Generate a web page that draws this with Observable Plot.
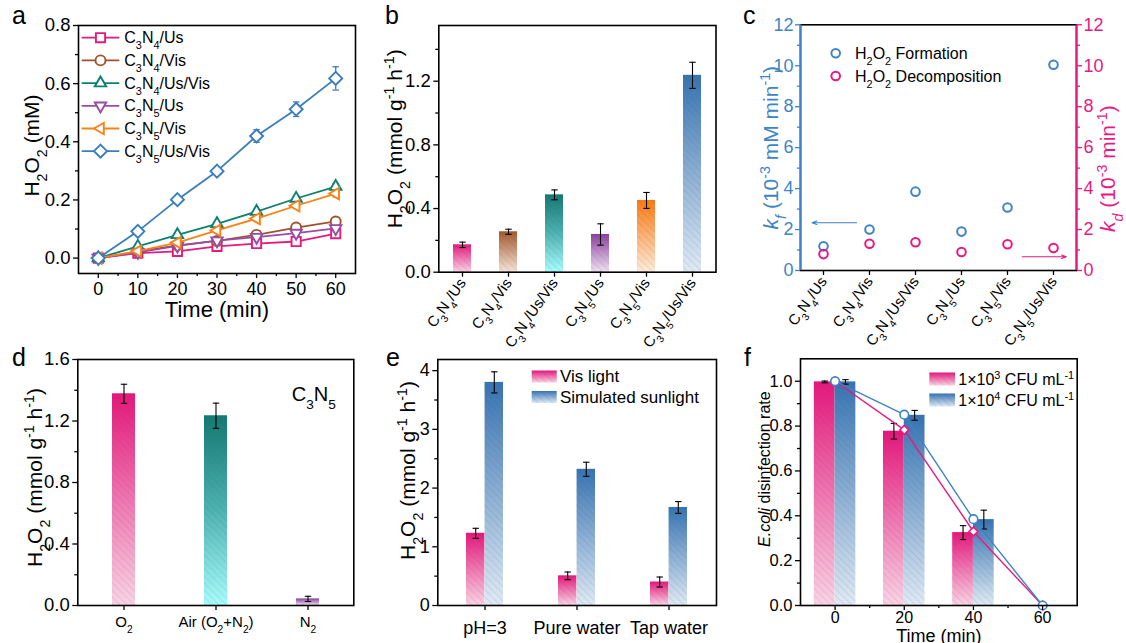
<!DOCTYPE html>
<html><head><meta charset="utf-8">
<script src="https://cdn.jsdelivr.net/npm/d3@7"></script>
<script src="https://cdn.jsdelivr.net/npm/@observablehq/plot@0.6"></script>
<style>
body{margin:0;background:#fff;}
#fig{position:relative;width:1126px;height:643px;overflow:hidden;font-family:"Liberation Sans",Arial,Helvetica,sans-serif;background:#fff;}
.letter{position:absolute;font-size:25px;line-height:25px;color:#000;}
</style></head><body>
<div id="fig">
<svg width="0" height="0" style="position:absolute;left:0;top:0">
<defs>
<pattern id="hatch" patternUnits="userSpaceOnUse" width="5" height="5" patternTransform="rotate(-45)">
<line x1="0" y1="0" x2="0" y2="5" stroke="#5a5a5a" stroke-opacity="0.28" stroke-width="0.9"/>
</pattern>
<linearGradient id="g-pink" x1="0" y1="0" x2="0" y2="1"><stop offset="0" stop-color="#E5167B"/><stop offset="1" stop-color="#FAD3E5"/></linearGradient>
<linearGradient id="g-brown" x1="0" y1="0" x2="0" y2="1"><stop offset="0" stop-color="#A3582C"/><stop offset="1" stop-color="#F5E4D7"/></linearGradient>
<linearGradient id="g-teal" x1="0" y1="0" x2="0" y2="1"><stop offset="0" stop-color="#137872"/><stop offset="0.5" stop-color="#4DB3B1"/><stop offset="1" stop-color="#A8FDFD"/></linearGradient>
<linearGradient id="g-purple" x1="0" y1="0" x2="0" y2="1"><stop offset="0" stop-color="#8D3F9F"/><stop offset="1" stop-color="#EFE1F2"/></linearGradient>
<linearGradient id="g-orange" x1="0" y1="0" x2="0" y2="1"><stop offset="0" stop-color="#FA7912"/><stop offset="1" stop-color="#FEECDA"/></linearGradient>
<linearGradient id="g-blue" x1="0" y1="0" x2="0" y2="1"><stop offset="0" stop-color="#3673B2"/><stop offset="1" stop-color="#DFEAF5"/></linearGradient>
</defs></svg>
</div>
<script>
// ---------------- DATA ----------------
// Panel a: H2O2 (mM) vs time
const timeA = [0, 10, 20, 30, 40, 50, 60];
const seriesA = ["C_3N_4/Us", "C_3N_4/Vis", "C_3N_4/Us/Vis", "C_3N_5/Us", "C_3N_5/Vis", "C_3N_5/Us/Vis"];
const valA_C3N4_Us    = [0, 0.017, 0.023, 0.040, 0.050, 0.057, 0.084];
const valA_C3N4_Vis   = [0, 0.022, 0.044, 0.059, 0.080, 0.105, 0.126];
const valA_C3N4_UsVis = [0, 0.040, 0.080, 0.118, 0.160, 0.205, 0.246];
const valA_C3N5_Us    = [0, 0.020, 0.042, 0.060, 0.072, 0.086, 0.102];
const valA_C3N5_Vis   = [0, 0.024, 0.053, 0.095, 0.136, 0.180, 0.222];
const valA_C3N5_UsVis = [0, 0.092, 0.201, 0.299, 0.420, 0.512, 0.618];
const errA_C3N4_Us    = [0.005, 0.004, 0.004, 0.005, 0.005, 0.006, 0.008];
const errA_C3N4_Vis   = [0.005, 0.004, 0.005, 0.005, 0.006, 0.007, 0.008];
const errA_C3N4_UsVis = [0.005, 0.005, 0.006, 0.006, 0.007, 0.008, 0.010];
const errA_C3N5_Us    = [0.005, 0.004, 0.005, 0.005, 0.006, 0.007, 0.008];
const errA_C3N5_Vis   = [0.005, 0.005, 0.006, 0.007, 0.008, 0.010, 0.012];
const errA_C3N5_UsVis = [0.010, 0.008, 0.010, 0.010, 0.022, 0.025, 0.040];

// Panel b: H2O2 production rate
const catsB = ["C_3N_4/Us", "C_3N_4/Vis", "C_3N_4/Us/Vis", "C_3N_5/Us", "C_3N_5/Vis", "C_3N_5/Us/Vis"];
const valB = [0.172, 0.254, 0.486, 0.237, 0.451, 1.237];
const errB = [0.017, 0.016, 0.031, 0.067, 0.050, 0.082];

// Panel c: rate constants
const catsC = ["C_3N_4/Us", "C_3N_4/Vis", "C_3N_4/Us/Vis", "C_3N_5/Us", "C_3N_5/Vis", "C_3N_5/Us/Vis"];
const kfC = [1.18, 2.00, 3.85, 1.90, 3.08, 10.05];
const kdC = [0.80, 1.31, 1.38, 0.90, 1.28, 1.10];
const legendC = ["H_2O_2 Formation", "H_2O_2 Decomposition"];
const arrowKf = [{from: 0.72, to: -0.25, level: 2.33}];
const arrowKd = [{from: 4.32, to: 5.28, level: 0.67}];

// Panel d: atmosphere
const catsD = ["O_2", "Air (O_2+N_2)", "N_2"];
const valD = [1.377, 1.234, 0.043];
const errD = [0.062, 0.082, 0.017];

// Panel e: water matrix
const catsE = ["pH=3", "Pure water", "Tap water"];
const valE_vis = [1.23, 0.505, 0.40];
const errE_vis = [0.085, 0.065, 0.085];
const valE_sun = [3.80, 2.32, 1.67];
const errE_sun = [0.18, 0.12, 0.10];
const legendE = ["Vis light", "Simulated sunlight"];

// Panel f: E. coli disinfection
const timeF = [0, 20, 40, 60];
const barF_1e3 = [0.997, 0.777, 0.325, 0];
const errF_1e3 = [0.004, 0.035, 0.031, 0];
const barF_1e4 = [0.997, 0.848, 0.383, 0];
const errF_1e4 = [0.010, 0.022, 0.042, 0];
const lineF_1e3 = [1.0, 0.783, 0.330, 0];
const lineF_1e4 = [1.0, 0.851, 0.385, 0];
const legendF = ["1×10^3 CFU mL^{-1}", "1×10^4 CFU mL^{-1}"];

// ---------------- STYLE ----------------
const FONT = "'Liberation Sans', Arial, Helvetica, sans-serif";
const colorsA = ["#E6197D", "#A0522D", "#0E8072", "#984CA6", "#FA8116", "#3A7DBD"];
const gradB = ["url(#g-pink)", "url(#g-brown)", "url(#g-teal)", "url(#g-purple)", "url(#g-orange)", "url(#g-blue)"];
const gradD = ["url(#g-pink)", "url(#g-teal)", "url(#g-purple)"];
const CBLUE = "#3F84C4", CPINK = "#E8197F";

const NS = "http://www.w3.org/2000/svg";
const fig = document.getElementById("fig");

function rich(root) {
  root.querySelectorAll("text").forEach(t => {
    const tsp = t.querySelectorAll("tspan");
    const targets = tsp.length ? Array.from(tsp) : [t];
    targets.forEach(el => {
      const s = el.textContent;
      if (!/[_^*]/.test(s)) return;
      while (el.firstChild) el.removeChild(el.firstChild);
      let buf = "", italic = false, i = 0;
      const add = (txt, kind) => {
        const ts = document.createElementNS(NS, "tspan");
        ts.textContent = txt;
        if (italic) ts.setAttribute("font-style", "italic");
        if (kind) { ts.setAttribute("baseline-shift", kind); ts.style.fontSize = "68%"; }
        el.appendChild(ts);
      };
      const flush = () => { if (buf) { add(buf); buf = ""; } };
      while (i < s.length) {
        const c = s[i];
        if ((c === "_" || c === "^") && i + 1 < s.length) {
          flush();
          let content;
          if (s[i + 1] === "{") { const k = s.indexOf("}", i + 1); content = s.slice(i + 2, k); i = k + 1; }
          else { content = s[i + 1]; i += 2; }
          add(content, c === "_" ? "sub" : "super");
        } else if (c === "*") { flush(); italic = !italic; i++; }
        else { buf += c; i++; }
      }
      flush();
    });
  });
}

function place(node, left, top) {
  node.style.position = "absolute";
  node.style.left = left + "px";
  node.style.top = top + "px";
  fig.appendChild(node);
  rich(node);
  return node;
}
function letter(ch, left, top) {
  const d = document.createElement("div");
  d.className = "letter"; d.textContent = ch;
  d.style.left = left + "px"; d.style.top = top + "px";
  fig.appendChild(d);
}

// symbols
const symSquare = {draw(ctx, size) { const s = Math.sqrt(size / Math.PI) * 0.92; ctx.rect(-s, -s, 2 * s, 2 * s); }};
const symDiamond = {draw(ctx, size) { const s = Math.sqrt(size / Math.PI) * 1.3; ctx.moveTo(0, -s); ctx.lineTo(s, 0); ctx.lineTo(0, s); ctx.lineTo(-s, 0); ctx.closePath(); }};
const symTri = deg => ({draw(ctx, size) {
  const r = Math.sqrt(size / Math.PI) * 1.32;
  for (let k = 0; k < 3; k++) {
    const a = (deg + k * 120) * Math.PI / 180;
    const x = r * Math.cos(a), y = r * Math.sin(a);
    if (k) ctx.lineTo(x, y); else ctx.moveTo(x, y);
  }
  ctx.closePath();
}});
const symTriUp = symTri(-90), symTriDown = symTri(90), symTriLeft = symTri(180);
const capSym = {draw(ctx) { ctx.moveTo(-3.2, 0); ctx.lineTo(3.2, 0); }};

function errMarks(data, {x, dx = 0, v = "v", e = "e", stroke = "#000", sw = 1.1}) {
  const val = typeof v === "function" ? v : d => d[v];
  const er = typeof e === "function" ? e : d => d[e];
  const dd = data.filter(d => er(d) > 0);
  return [
    Plot.ruleX(dd, {x, y1: d => val(d) - er(d), y2: d => val(d) + er(d), dx, stroke, strokeWidth: sw}),
    Plot.dot(dd, {x, y: d => val(d) + er(d), dx, symbol: capSym, stroke, strokeWidth: sw, fill: "none"}),
    Plot.dot(dd, {x, y: d => val(d) - er(d), dx, symbol: capSym, stroke, strokeWidth: sw, fill: "none"})
  ];
}
const style = {fontFamily: FONT, fontSize: "16px", color: "#000", background: "transparent", overflow: "visible"};
const frameMark = () => Plot.frame({stroke: "#000", strokeWidth: 1.6});
const title = (txt, o) => Plot.text([txt], {text: d => d, textAnchor: "middle", ...o});
function legendGroup(svg) {
  return d3.select(svg).append("g").attr("font-family", FONT).attr("text-anchor", "start").attr("fill", "#000");
}

// ---------------- PANEL A ----------------
{
  const valuesA = [valA_C3N4_Us, valA_C3N4_Vis, valA_C3N4_UsVis, valA_C3N5_Us, valA_C3N5_Vis, valA_C3N5_UsVis];
  const errsA = [errA_C3N4_Us, errA_C3N4_Vis, errA_C3N4_UsVis, errA_C3N5_Us, errA_C3N5_Vis, errA_C3N5_UsVis];
  const symbolsA = [symSquare, d3.symbolCircle, symTriUp, symTriDown, symTriLeft, symDiamond];
  const marks = [
    frameMark(),
    Plot.axisX({ticks: [0, 10, 20, 30, 40, 50, 60], tickSize: 5, tickPadding: 4, fontSize: 18, label: null, tickFormat: d3.format("d"), strokeWidth: 1.3}),
    Plot.axisX({ticks: [5, 15, 25, 35, 45, 55], tickSize: 3, tickFormat: () => "", label: null, strokeWidth: 1.3}),
    Plot.axisY({ticks: [0, 0.2, 0.4, 0.6, 0.8], tickSize: 5, tickPadding: 3, fontSize: 18.5, tickFormat: d3.format(".1f"), label: null, strokeWidth: 1.3}),
    Plot.axisY({ticks: [0.1, 0.3, 0.5, 0.7], tickSize: 3, tickFormat: () => "", label: null, strokeWidth: 1.3})
  ];
  seriesA.forEach((name, k) => {
    const data = timeA.map((t, i) => ({t, v: valuesA[k][i], e: errsA[k][i]}));
    marks.push(Plot.line(data, {x: "t", y: "v", stroke: colorsA[k], strokeWidth: 1.8}));
    marks.push(...errMarks(data, {x: "t", stroke: colorsA[k], sw: 1.3}));
    marks.push(Plot.dot(data, {x: "t", y: "v", symbol: symbolsA[k], r: 5, stroke: colorsA[k], fill: "white", strokeWidth: 1.9}));
  });
  marks.push(title("Time (min)", {frameAnchor: "bottom", lineAnchor: "top", dy: 28, fontSize: 22}));
  marks.push(title("H_2O_2 (mM)", {frameAnchor: "left", rotate: -90, dx: -46, dy: -4, fontSize: 21}));
  const svg = Plot.plot({
    width: 376, height: 322, marginLeft: 78, marginRight: 21, marginTop: 25, marginBottom: 49,
    style, x: {domain: [-5, 65]}, y: {domain: [-0.053, 0.8]}, marks
  });
  const g = legendGroup(svg);
  const L = 78, T = 25;
  seriesA.forEach((name, k) => {
    const y = T + 12.7 + k * 22.7;
    g.append("line").attr("x1", L + 3.7).attr("x2", L + 41.3).attr("y1", y).attr("y2", y).attr("stroke", colorsA[k]).attr("stroke-width", 1.8);
    g.append("path").attr("d", d3.symbol(symbolsA[k], 25 * Math.PI)()).attr("transform", `translate(${L + 22.5},${y})`)
      .attr("fill", "white").attr("stroke", colorsA[k]).attr("stroke-width", 1.9);
    g.append("text").attr("x", L + 46.3).attr("y", y).attr("dy", "0.35em").attr("font-size", 16).text(name);
  });
  place(svg, 0, 0);
}

// ---------------- PANEL B ----------------
{
  const data = catsB.map((c, i) => ({c, v: valB[i], e: errB[i], g: gradB[i]}));
  const svg = Plot.plot({
    width: 380, height: 330, marginLeft: 58.3, marginRight: 44.5, marginTop: 25, marginBottom: 58.3,
    style, color: {type: "identity"},
    x: {type: "band", domain: catsB, paddingInner: 0.6, paddingOuter: 0.3},
    y: {domain: [0, 1.55]},
    marks: [
      Plot.barY(data, {x: "c", y: "v", fill: "g"}),
      Plot.barY(data, {x: "c", y: "v", fill: "url(#hatch)"}),
      ...errMarks(data, {x: "c"}),
      frameMark(),
      Plot.axisX({tickRotate: -55, tickSize: 5, tickPadding: 3, fontSize: 15, label: null, strokeWidth: 1.3}),
      Plot.axisY({ticks: [0, 0.4, 0.8, 1.2], tickSize: 5, tickPadding: 3, fontSize: 18.5, tickFormat: d3.format(".1f"), label: null, strokeWidth: 1.3}),
      Plot.axisY({ticks: [0.2, 0.6, 1.0, 1.4], tickSize: 3, tickFormat: () => "", label: null, strokeWidth: 1.3}),
      title("H_2O_2 (mmol g^{-1} h^{-1})", {frameAnchor: "left", rotate: -90, dx: -44, dy: -10, fontSize: 21})
    ]
  });
  place(svg, 380, 0);
}

// ---------------- PANEL C ----------------
{
  const xDom = [-0.5, 5.5];
  const data = catsC.map((c, i) => ({i, kf: kfC[i], kd: kdC[i]}));
  const svg = Plot.plot({
    width: 366, height: 330, marginLeft: 40, marginRight: 50, marginTop: 24.3, marginBottom: 60,
    style, x: {domain: xDom}, y: {domain: [0, 12]},
    marks: [
      frameMark(),
      Plot.ruleX([xDom[0]], {stroke: CBLUE, strokeWidth: 2}),
      Plot.ruleX([xDom[1]], {stroke: CPINK, strokeWidth: 2}),
      Plot.axisX({ticks: d3.range(catsC.length), tickFormat: i => catsC[i], tickRotate: -55, tickSize: 5, tickPadding: 3, fontSize: 15, label: null, strokeWidth: 1.3}),
      Plot.axisY({anchor: "left", ticks: d3.range(0, 13, 2), color: CBLUE, tickSize: 5, tickPadding: 2, fontSize: 18, label: null, strokeWidth: 1.3}),
      Plot.axisY({anchor: "left", ticks: d3.range(1, 12, 2), color: CBLUE, tickSize: 3, tickFormat: () => "", label: null, strokeWidth: 1.3}),
      Plot.axisY({anchor: "right", ticks: d3.range(0, 13, 2), color: CPINK, tickSize: 5, tickPadding: 2, fontSize: 18, label: null, strokeWidth: 1.3}),
      Plot.axisY({anchor: "right", ticks: d3.range(1, 12, 2), color: CPINK, tickSize: 3, tickFormat: () => "", label: null, strokeWidth: 1.3}),
      Plot.arrow(arrowKf, {x1: "from", x2: "to", y1: "level", y2: "level", stroke: CBLUE, strokeWidth: 1.1, headLength: 7, headAngle: 40}),
      Plot.arrow(arrowKd, {x1: "from", x2: "to", y1: "level", y2: "level", stroke: CPINK, strokeWidth: 1.1, headLength: 7, headAngle: 40}),
      Plot.dot(data, {x: "i", y: "kf", r: 4.3, stroke: CBLUE, strokeWidth: 2, fill: "none"}),
      Plot.dot(data, {x: "i", y: "kd", r: 4.3, stroke: CPINK, strokeWidth: 2, fill: "none"}),
      title("*k_f* (10^{-3} mM min^{-1})", {frameAnchor: "left", rotate: -90, dx: -29, dy: 0, fontSize: 21, fill: CBLUE}),
      title("*k_d* (10^{-3} min^{-1})", {frameAnchor: "right", rotate: -90, dx: 32, dy: 21, fontSize: 21, fill: CPINK})
    ]
  });
  const g = legendGroup(svg);
  const L = 40, T = 24.3;
  [[CBLUE, 29], [CPINK, 51.7]].forEach(([col, y], k) => {
    g.append("circle").attr("cx", L + 35.7).attr("cy", T + y).attr("r", 4.3).attr("fill", "none").attr("stroke", col).attr("stroke-width", 2);
    g.append("text").attr("x", L + 55).attr("y", T + y).attr("dy", "0.35em").attr("font-size", 16).text(legendC[k]);
  });
  place(svg, 760, 0);
}

// ---------------- PANEL D ----------------
{
  const data = catsD.map((c, i) => ({c, v: valD[i], e: errD[i], g: gradD[i]}));
  const svg = Plot.plot({
    width: 376, height: 313, marginLeft: 77.3, marginRight: 22.7, marginTop: 29, marginBottom: 38,
    style, color: {type: "identity"},
    x: {type: "band", domain: catsD, paddingInner: 0.75, paddingOuter: 0.375},
    y: {domain: [0, 1.6]},
    marks: [
      Plot.barY(data, {x: "c", y: "v", fill: "g"}),
      Plot.barY(data, {x: "c", y: "v", fill: "url(#hatch)"}),
      ...errMarks(data, {x: "c"}),
      frameMark(),
      Plot.axisX({tickSize: 5, tickPadding: 6, fontSize: 15, label: null, strokeWidth: 1.3}),
      Plot.axisY({ticks: [0, 0.4, 0.8, 1.2, 1.6], tickSize: 5, tickPadding: 3, fontSize: 18.5, tickFormat: d3.format(".1f"), label: null, strokeWidth: 1.3}),
      Plot.axisY({ticks: [0.2, 0.6, 1.0, 1.4], tickSize: 3, tickFormat: () => "", label: null, strokeWidth: 1.3}),
      title("C_3N_5", {frameAnchor: "top-right", textAnchor: "end", dx: -18, dy: 27, fontSize: 20}),
      title("H_2O_2 (mmol g^{-1} h^{-1})", {frameAnchor: "left", rotate: -90, dx: -43, dy: -5, fontSize: 21})
    ]
  });
  place(svg, 0, 330);
}

// ---------------- PANEL E ----------------
{
  const data = catsE.map((c, i) => ({c, vis: valE_vis[i], evis: errE_vis[i], sun: valE_sun[i], esun: errE_sun[i]}));
  const half = 18.58;
  const svg = Plot.plot({
    width: 380, height: 313, marginLeft: 57.3, marginRight: 44, marginTop: 29, marginBottom: 38,
    style,
    x: {type: "band", domain: catsE, paddingInner: 0.6, paddingOuter: 0.3},
    y: {domain: [0, 4.19]},
    marks: [
      Plot.barY(data, {x: "c", y: "vis", fill: "url(#g-pink)", insetRight: half}),
      Plot.barY(data, {x: "c", y: "vis", fill: "url(#hatch)", insetRight: half}),
      Plot.barY(data, {x: "c", y: "sun", fill: "url(#g-blue)", insetLeft: half}),
      Plot.barY(data, {x: "c", y: "sun", fill: "url(#hatch)", insetLeft: half}),
      ...errMarks(data, {x: "c", v: "vis", e: "evis", dx: -half / 2}),
      ...errMarks(data, {x: "c", v: "sun", e: "esun", dx: half / 2}),
      frameMark(),
      Plot.axisX({tickSize: 5, tickPadding: 11, fontSize: 18, label: null, strokeWidth: 1.3}),
      Plot.axisY({ticks: [0, 1, 2, 3, 4], tickSize: 5, tickPadding: 3, fontSize: 18, tickFormat: d3.format("d"), label: null, strokeWidth: 1.3}),
      Plot.axisY({ticks: [0.5, 1.5, 2.5, 3.5], tickSize: 3, tickFormat: () => "", label: null, strokeWidth: 1.3}),
      title("H_2O_2 (mmol g^{-1} h^{-1})", {frameAnchor: "left", rotate: -90, dx: -30, dy: -12, fontSize: 21})
    ]
  });
  const g = legendGroup(svg);
  const L = 57.3, T = 29;
  [["url(#g-pink)", 17.5], ["url(#g-blue)", 38]].forEach(([f, y], k) => {
    g.append("rect").attr("x", L + 94.4).attr("y", T + y - 6).attr("width", 25).attr("height", 12).attr("fill", f);
    g.append("rect").attr("x", L + 94.4).attr("y", T + y - 6).attr("width", 25).attr("height", 12).attr("fill", "url(#hatch)");
    g.append("text").attr("x", L + 122.7).attr("y", T + y).attr("dy", "0.35em").attr("font-size", 17).text(legendE[k]);
  });
  place(svg, 380, 330);
}

// ---------------- PANEL F ----------------
{
  const BW = 6;
  const data = timeF.map((t, i) => ({t, v1: barF_1e3[i], e1: errF_1e3[i], v2: barF_1e4[i], e2: errF_1e4[i], l1: lineF_1e3[i], l2: lineF_1e4[i]}));
  const svg = Plot.plot({
    width: 366, height: 313, marginLeft: 40, marginRight: 49.3, marginTop: 28.3, marginBottom: 38,
    style, x: {domain: [-10, 70]}, y: {domain: [0, 1.1]},
    marks: [
      Plot.rectY(data, {x1: d => d.t - BW, x2: d => d.t, y1: 0, y2: "v1", fill: "url(#g-pink)"}),
      Plot.rectY(data, {x1: d => d.t - BW, x2: d => d.t, y1: 0, y2: "v1", fill: "url(#hatch)"}),
      Plot.rectY(data, {x1: d => d.t, x2: d => d.t + BW, y1: 0, y2: "v2", fill: "url(#g-blue)"}),
      Plot.rectY(data, {x1: d => d.t, x2: d => d.t + BW, y1: 0, y2: "v2", fill: "url(#hatch)"}),
      ...errMarks(data, {x: d => d.t - BW / 2, v: "v1", e: "e1"}),
      ...errMarks(data, {x: d => d.t + BW / 2, v: "v2", e: "e2"}),
      Plot.line(data, {x: "t", y: "l1", stroke: CPINK, strokeWidth: 1.4}),
      Plot.dot(data, {x: "t", y: "l1", symbol: symDiamond, r: 3.4, stroke: CPINK, fill: "white", strokeWidth: 1.6}),
      Plot.line(data, {x: "t", y: "l2", stroke: CBLUE, strokeWidth: 1.4}),
      Plot.dot(data, {x: "t", y: "l2", r: 4.3, stroke: CBLUE, fill: "white", strokeWidth: 1.6}),
      frameMark(),
      Plot.axisX({ticks: [0, 20, 40, 60], tickSize: 5, tickPadding: 1, fontSize: 16, tickFormat: d3.format("d"), label: null, strokeWidth: 1.3}),
      Plot.axisX({ticks: [10, 30, 50], tickSize: 3, tickFormat: () => "", label: null, strokeWidth: 1.3}),
      Plot.axisY({ticks: [0, 0.2, 0.4, 0.6, 0.8, 1.0], tickSize: 5, tickPadding: 3, fontSize: 16.5, tickFormat: d3.format(".1f"), label: null, strokeWidth: 1.3}),
      Plot.axisY({ticks: [0.1, 0.3, 0.5, 0.7, 0.9], tickSize: 3, tickFormat: () => "", label: null, strokeWidth: 1.3}),
      title("Time (min)", {frameAnchor: "bottom", lineAnchor: "top", dy: 24, fontSize: 18}),
      title("*E.coli* disinfection rate", {frameAnchor: "left", rotate: -90, dx: -36, dy: -13, fontSize: 16})
    ]
  });
  const g = legendGroup(svg);
  const L = 40, T = 28.3;
  [["url(#g-pink)", 20.7], ["url(#g-blue)", 41.7]].forEach(([f, y], k) => {
    g.append("rect").attr("x", L + 129.3).attr("y", T + y - 6.5).attr("width", 25.7).attr("height", 13).attr("fill", f);
    g.append("rect").attr("x", L + 129.3).attr("y", T + y - 6.5).attr("width", 25.7).attr("height", 13).attr("fill", "url(#hatch)");
    g.append("text").attr("x", L + 158.3).attr("y", T + y).attr("dy", "0.35em").attr("font-size", 16).text(legendF[k]);
  });
  place(svg, 760, 330);
}

// panel letters
letter("a", 12, 3); letter("b", 385, 3); letter("c", 743, 3);
letter("d", 12, 345); letter("e", 386, 345); letter("f", 744, 345);
</script></body></html>
